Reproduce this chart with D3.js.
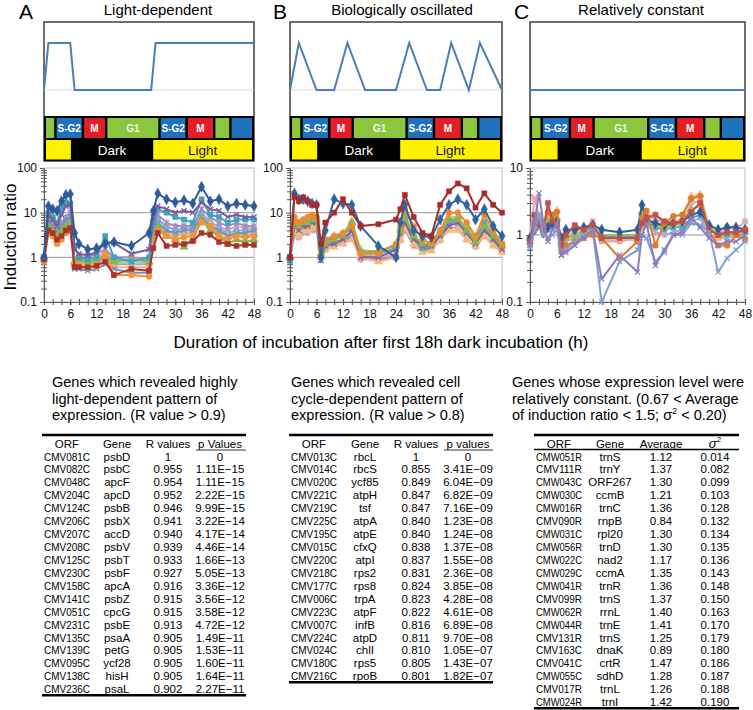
<!DOCTYPE html>
<html>
<head>
<meta charset="utf-8">
<script src="https://cdn.jsdelivr.net/npm/d3@7"></script>
<style>
body { margin: 0; background: #fff; }
svg { font-family: "Liberation Sans", Arial, sans-serif; }
</style>
</head>
<body>
<div id="chart-area"></div>
<script>
// sampling times (h)
var hours = [0,1,2,3,4,5,6,7,8,10,12,14,16,20,24,25,26,28,30,32,34,36,38,40,42,44,46,48];

// induction ratios, panel A (light-dependent)
var seriesA = [
  [1,14,12,11,18,25,26,3.5,2,1.5,1.6,2,2.2,1.8,3.5,11,27,20,17,19,16,38,18,20,14,16,15,14],
  [0.9,4,3.5,2.5,3,4,4.5,0.6,0.6,0.6,0.65,0.8,0.4,0.55,0.5,1.6,3.5,1.8,1.9,2,2.3,3.5,3.2,2.2,2,1.8,1.9,1.9],
  [1,9,7,5,9,14,15,1.5,1.2,1.1,1.3,2.2,2.1,1.2,1.5,8,14,12,10,11,10,17,12,11,8,9,8,8],
  [1,10,8,6,12,17,16,1.8,1,0.9,1,3,1,0.8,1,6,12,10,8,7,6,20,9,8,6,7,7,7],
  [0.8,3.5,3,2,2.5,3.5,4,0.7,0.65,0.6,0.6,1.2,0.4,0.4,0.37,2.5,4,3,2.5,2.8,3,6,5,3,2.5,3,2.8,3],
  [1,5,4,3,4,5,6,0.8,0.9,0.8,0.9,1.1,0.8,0.9,0.8,3,5,3,2.5,1.7,2.5,7,4,3,2,2.5,2.2,2.5],
  [1,6,5,3.5,5,7,8,0.55,0.55,0.5,0.55,0.7,0.55,0.45,0.45,4,6,4,3.5,4,4,8,5,4,3,3.5,3.5,4],
  [0.9,4,3.6,2.5,3.5,4.5,5,0.65,0.7,0.7,0.75,1,0.6,0.6,0.6,3.5,5,3.5,3,3.5,3.5,7,5.5,3.5,3,3.2,3,3.2],
  [1,7,6,4,6,8,10,0.9,1,1,1.2,1.5,1,1,0.9,5,9,6,5,5,5,12,8,6,5,6,5,5],
  [1,5,4,3,4,6,7,0.7,0.75,0.7,0.8,1,0.7,0.7,0.7,4,7,5,4,4.5,4,10,6,4.5,3.5,4,4,4],
  [1,4.5,4,2.8,4,5,5.5,0.75,0.8,0.8,0.85,1,0.75,0.8,0.75,3.2,5.5,3.8,3.2,3.5,3.4,8,5,3.8,2.8,3.4,3.2,3.4],
  [1,6,5,3.5,5,6,6.5,0.85,0.9,0.9,1,1.3,0.9,0.9,0.85,4.5,7,5,4,4.5,4.5,9,6,5,4,5,4.5,4.5]
];

// panel B (biologically oscillated)
var seriesB = [
  [1,23,18,22,18,15,15,2,6,10,20,10,5,5.5,7,12,25,8,3.5,3,15,30,45,35,13,27,15,10],
  [1,27,20,20,18,16,15,1,4,20,16,15,5,1.8,1,6,15,4,3,2.8,7,15,20,15,7,12,5,3],
  [1,8,6,7,8,9,8,1.5,2.5,3,3.5,5,1.2,1.2,2,5,12,5,2.5,2,4,10,10,6,3,9,4,2],
  [1,6,5,6,6,7,7,1.2,2,2.5,3,6,1.3,1.4,1.8,4,8,3,2,2,3.5,7,7,4,2.2,5,3,1.8],
  [1,5,4,5,5,6,6,0.85,1.8,2,2.5,4,1,1,1.5,3.5,6,2.5,1.8,1.8,3,5,6,3.5,2,4,2.5,1.5],
  [0.9,6,5,5,6,7,7,1.5,2.2,2.8,3.2,4.5,1.3,1.2,1.6,4,7,2.8,1.6,1.8,3.2,6,7,4,2.5,6,3,2],
  [1,4,3,4,4,4.5,5,1,1.5,1.7,2,2.5,1,0.8,1,2.5,4.5,2,1.3,1.4,2.5,4,4,2.5,1.8,3,1.8,1.3],
  [0.8,5,4,4.5,5,5.5,5.5,1.3,2,2.2,2.5,3,1.1,0.9,1,3.5,6,2.2,1.5,1.6,3,6,6.5,3.5,2.2,4.5,2.6,1.6],
  [1,7,6,6.5,7,8,8,1.8,2.6,3,3.5,6.5,1.5,1.3,2,4.5,9,3.2,1.9,2.2,4,8,8,4.5,2.8,7,3.5,2],
  [1,5.5,4.5,5,5.5,6,6,1.1,1.7,2,2.3,3.5,1.2,1,1.2,3,5.5,2.4,1.5,1.7,3,5.5,6,3.2,2,4,2.4,1.5],
  [1,3,2.8,3.5,3.5,4,4,0.9,1.5,1.8,2.2,2.8,0.9,0.9,1.1,2.4,4,1.8,1.4,1.5,2.4,4.5,4.8,2.5,1.7,3,2,1.4]
];

// panel C (relatively constant)
var seriesC = [
  [0.7,1.5,4.2,1.5,0.8,1.2,1.5,0.5,0.55,0.7,0.9,1.2,0.22,0.5,0.28,1,1.5,0.35,0.6,1,1.1,1.8,1.3,0.9,0.7,0.8,0.8,1],
  [0.65,1.2,2,1,0.9,1,1.2,0.5,0.6,0.8,1,1.2,0.1,0.4,0.6,1,0.9,0.4,0.55,1,1,1.5,1.4,1.1,0.28,0.45,0.6,0.8],
  [0.8,2,1.5,1.2,3,1.6,1.4,0.7,1,1.4,1.2,1.4,0.9,0.9,0.9,1.5,1.8,2,1.6,1.5,1.6,2.2,3,1.2,1,1.1,1.1,1.2],
  [0.75,1.2,1.5,1.3,2.2,2,2.2,0.6,0.7,0.8,0.9,1,0.9,0.45,0.8,1.8,2.3,0.7,1.5,1.9,2,3.5,3.8,1.1,0.7,0.7,1,0.85],
  [0.9,1.2,1.5,1.1,1.3,1.5,1.6,0.9,1.2,1.2,1.3,1.4,1.2,1.1,1.2,2.8,1.7,1.5,1.4,1.5,1.6,2,2.2,1.4,1.2,1.3,1.3,1.2],
  [0.9,1.5,1.8,1.3,1.6,1.7,1.8,0.8,0.9,1,1.1,1.2,1,1,1,2.2,1.8,1.4,1.3,1.4,1.5,2.4,2.8,1.3,1,1.1,1.1,1.1],
  [0.8,1.3,1.6,1.2,1.4,1.5,1.5,0.7,0.9,1,1.1,1.3,0.95,0.95,0.95,1.6,1.6,1.3,1.2,1.3,1.3,1.8,2,1.2,1,1,1.1,1.1],
  [0.9,3.5,2,1.5,1.8,1.4,1.3,0.8,1,1.3,1.2,1.6,0.8,0.8,0.9,1.8,1.9,1.7,1.5,1.5,1.5,3,3.2,1.2,1,1.3,1.2,1.6],
  [0.8,1.4,1.7,1.4,1.9,1.9,2.3,0.75,0.95,1.1,1.2,1.3,0.9,0.85,0.85,1.7,2,1.9,1.5,1.6,1.7,3.8,4,1.3,0.9,1,1.1,1.2],
  [0.75,1.1,1.3,1,1.2,1.3,1.4,0.65,0.8,0.9,1,1.1,0.85,0.85,0.85,1.3,1.4,1.1,1,1.1,1.2,1.6,1.8,1,0.9,0.9,1,1]
];

// model patterns (time, level)
var patternA = [[0,0],[1,1],[6,1],[7,0],[24.5,0],[25.5,1],[48,1]];
var patternB = [[0,0],[2,1],[6,0],[10,0],[13,1],[17,0],[24,0],[27,1],[31,0],[34,0],[36.5,1],[40.5,0],[43,1],[48,0]];
var patternC = [[0,0],[48,0]];

// cell cycle and light schedule
var phaseBounds = [0,2.6,8.9,14.2,26.4,32.6,38.9,42.6,48];
var phaseKinds = ["G1","S-G2","M","G1","S-G2","M","G1","S-G2"];
var phaseLabels = ["","S-G2","M","G1","S-G2","M","",""];
var lightBounds = [0,6.6,24.5,48];
var lightLabels = ["","Dark","Light"];

var yTicksAB = [0.1,1,10,100];
var yTicksC = [0.1,1,10];
var xTicks = [0,6,12,18,24,30,36,42,48];

// tables
var orfA = ["CMV081C","CMV082C","CMV048C","CMV204C","CMV124C","CMV206C","CMV207C","CMV208C","CMV125C","CMV230C","CMV158C","CMV141C","CMV051C","CMV231C","CMV135C","CMV139C","CMV095C","CMV138C","CMV236C"];
var geneA = ["psbD","psbC","apcF","apcD","psbB","psbX","accD","psbV","psbT","psbF","apcA","psbZ","cpcG","psbE","psaA","petG","ycf28","hisH","psaL"];
var rA = ["1","0.955","0.954","0.952","0.946","0.941","0.940","0.939","0.933","0.927","0.916","0.915","0.915","0.913","0.905","0.905","0.905","0.905","0.902"];
var pA = ["0","1.11E\u221215","1.11E\u221215","2.22E\u221215","9.99E\u221215","3.22E\u221214","4.17E\u221214","4.46E\u221214","1.66E\u221213","5.05E\u221213","3.36E\u221212","3.56E\u221212","3.58E\u221212","4.72E\u221212","1.49E\u221211","1.53E\u221211","1.60E\u221211","1.64E\u221211","2.27E\u221211"];

var orfB = ["CMV013C","CMV014C","CMV020C","CMV221C","CMV219C","CMV225C","CMV195C","CMV015C","CMV220C","CMV218C","CMV177C","CMV006C","CMV223C","CMV007C","CMV224C","CMV024C","CMV180C","CMV216C"];
var geneB = ["rbcL","rbcS","ycf85","atpH","tsf","atpA","atpE","cfxQ","atpI","rps2","rps8","trpA","atpF","infB","atpD","chlI","rps5","rpoB"];
var rB = ["1","0.855","0.849","0.847","0.847","0.840","0.840","0.838","0.837","0.831","0.824","0.823","0.822","0.816","0.811","0.810","0.805","0.801"];
var pB = ["0","3.41E\u221209","6.04E\u221209","6.82E\u221209","7.16E\u221209","1.23E\u221208","1.24E\u221208","1.37E\u221208","1.55E\u221208","2.36E\u221208","3.85E\u221208","4.28E\u221208","4.61E\u221208","6.89E\u221208","9.70E\u221208","1.05E\u221207","1.43E\u221207","1.82E\u221207"];

var orfC = ["CMW051R","CMV111R","CMW043C","CMW030C","CMW016R","CMV090R","CMW031C","CMW056R","CMW022C","CMW029C","CMW041R","CMV099R","CMW062R","CMW044R","CMV131R","CMV163C","CMV041C","CMW055C","CMV017R","CMW024R"];
var geneC = ["trnS","trnY","ORF267","ccmB","trnC","rnpB","rpl20","trnD","nad2","ccmA","trnR","trnS","rrnL","trnE","trnS","dnaK","crtR","sdhD","trnL","trnI"];
var avgC = ["1.12","1.37","1.30","1.21","1.36","0.84","1.30","1.30","1.17","1.35","1.36","1.37","1.40","1.41","1.25","0.89","1.47","1.28","1.26","1.42"];
var varC = ["0.014","0.082","0.099","0.103","0.128","0.132","0.134","0.135","0.136","0.143","0.148","0.150","0.163","0.170","0.179","0.180","0.186","0.187","0.188","0.190"];

// ---- styles ----
var colA = ["#2f5b9a","#a8342f","#7b5a9e","#3fa3bd","#f0923e","#8fb04f","#6c93c9","#f6b26b","#a48cc4","#8eaadb","#b9d28a","#e6a6a4"];
var mkA  = ["diamond","square","x","square","circle","triangle","x","triangle","star","diamond","triangle","square"];
var colB = ["#a52c2a","#2e64a6","#f08a2c","#8fb04f","#8064a2","#4bacc6","#f9b877","#6f95cc","#b7d28a","#e4a9a7","#b3a2c7"];
var mkB  = ["square","diamond","circle","triangle","x","square","triangle","x","triangle","square","star"];
var colC = ["#8d7cbf","#7ea1d6","#c0504d","#e07a28","#2f5b9a","#9bbb59","#4bacc6","#e5a9b0","#f8b878","#b6a6cc"];
var mkC  = ["x","x","square","circle","diamond","triangle","square","square","triangle","star"];
var phaseColor = {"G1":"#8cc63f","S-G2":"#1f72bb","M":"#e41e26"};

var svg = d3.select("#chart-area").append("svg")
  .attr("width", 753)
  .attr("height", 710);

var boxTop = 22, boxBottom = 161, plotTop = 168, plotBottom = 302;

var panels = [
  {left:44, right:254, letter:"A", letterX:19, title:"Light-dependent", titleX:158, series:seriesA, colors:colA, marks:mkA, pattern:patternA, yDom:[0.1,100], yTicks:yTicksAB},
  {left:290, right:502, letter:"B", letterX:273, title:"Biologically oscillated", titleX:402, series:seriesB, colors:colB, marks:mkB, pattern:patternB, yDom:[0.1,100], yTicks:yTicksAB},
  {left:530, right:745, letter:"C", letterX:514, title:"Relatively constant", titleX:641, series:seriesC, colors:colC, marks:mkC, pattern:patternC, yDom:[0.1,10], yTicks:yTicksC}
];

function markPath(kind){
  var r = 2.6;
  if (kind == "diamond") return d3.symbol().type(d3.symbolDiamond).size(34)();
  if (kind == "square") return d3.symbol().type(d3.symbolSquare).size(26)();
  if (kind == "triangle") return d3.symbol().type(d3.symbolTriangle).size(28)();
  if (kind == "circle") return d3.symbol().type(d3.symbolCircle).size(28)();
  if (kind == "x") return "M"+(-r)+","+(-r)+"L"+r+","+r+"M"+r+","+(-r)+"L"+(-r)+","+r;
  return "M"+(-r)+","+(-r)+"L"+r+","+r+"M"+r+","+(-r)+"L"+(-r)+","+r+"M0,-3.3L0,3.3";
}

panels.forEach(function(p){
  var x = d3.scaleLinear().domain([0,48]).range([p.left, p.right]);
  var y = d3.scaleLog().domain(p.yDom).range([plotBottom, plotTop]);
  var lv = d3.scaleLinear().domain([0,1]).range([90,43]);

  // heading
  svg.append("text").attr("x", p.letterX).attr("y", 19)
    .attr("font-size", "21px").text(p.letter);
  svg.append("text").attr("x", p.titleX).attr("y", 15)
    .attr("font-size", "15px").attr("text-anchor", "middle").text(p.title);

  // model box
  svg.append("rect").attr("x", p.left).attr("y", boxTop)
    .attr("width", p.right - p.left).attr("height", boxBottom - boxTop)
    .attr("fill", "#fff").attr("stroke", "#222").attr("stroke-width", 1.3);
  svg.append("line").attr("x1", p.left).attr("x2", p.right)
    .attr("y1", lv(0)).attr("y2", lv(0)).attr("stroke", "#ddd").attr("stroke-width", 1);
  svg.append("path").datum(p.pattern)
    .attr("d", d3.line().x(function(d){return x(d[0]);}).y(function(d){return lv(d[1]);}))
    .attr("fill", "none").attr("stroke", "#4a7ebb").attr("stroke-width", 2);

  // cell cycle rows
  svg.append("rect").attr("x", p.left).attr("y", 116)
    .attr("width", p.right - p.left).attr("height", boxBottom - 116).attr("fill", "#000");
  for (var i = 0; i < phaseKinds.length; i++) {
    var x0 = x(phaseBounds[i]) + (i == 0 ? 2 : 1.2), x1 = x(phaseBounds[i+1]) - (i == phaseKinds.length-1 ? 2 : 1.2);
    svg.append("rect").attr("x", x0).attr("y", 118).attr("width", x1 - x0).attr("height", 20)
      .attr("fill", phaseColor[phaseKinds[i]]);
    if (phaseLabels[i]) {
      svg.append("text").attr("x", (x0 + x1) / 2).attr("y", 132)
        .attr("text-anchor", "middle").attr("font-size", "10px").attr("font-weight", "bold")
        .attr("fill", phaseKinds[i] == "G1" ? "#eef6e0" : "#fff").text(phaseLabels[i]);
    }
  }
  for (var j = 0; j < lightLabels.length; j++) {
    var l0 = x(lightBounds[j]) + 2, l1 = x(lightBounds[j+1]) - 2;
    var dark = lightLabels[j] == "Dark";
    if (!dark) {
      svg.append("rect").attr("x", l0).attr("y", 140).attr("width", l1 - l0).attr("height", 19.5)
        .attr("fill", "#fff200");
    }
    if (lightLabels[j]) {
      svg.append("text").attr("x", (l0 + l1) / 2).attr("y", 155)
        .attr("text-anchor", "middle").attr("font-size", "13.5px")
        .attr("fill", dark ? "#fff" : "#111").text(lightLabels[j]);
    }
  }

  // plot frame and grid
  svg.append("rect").attr("x", p.left).attr("y", plotTop)
    .attr("width", p.right - p.left).attr("height", plotBottom - plotTop)
    .attr("fill", "none").attr("stroke", "#bbb");
  p.yTicks.slice(1, -1).forEach(function(t){
    svg.append("line").attr("x1", p.left).attr("x2", p.right)
      .attr("y1", y(t)).attr("y2", y(t)).attr("stroke", "#999").attr("stroke-width", 1);
  });

  // axes
  var minor = [];
  for (var k = 0; k < p.yTicks.length - 1; k++) {
    for (var m = 2; m <= 9; m++) minor.push(p.yTicks[k] * m);
  }
  var yMinor = svg.append("g").attr("transform", "translate(" + (p.left + 3) + ",0)")
    .call(d3.axisLeft(y).tickValues(minor).tickSize(6).tickFormat(""));
  yMinor.select(".domain").remove();
  yMinor.selectAll("line").attr("stroke", "#555");
  var yAxis = svg.append("g").attr("transform", "translate(" + p.left + ",0)")
    .call(d3.axisLeft(y).tickValues(p.yTicks).tickSize(4).tickSizeOuter(0)
      .tickFormat(function(d){ return d < 1 ? "0.1" : String(d); }));
  yAxis.select(".domain").attr("stroke", "#555");
  yAxis.selectAll("line").attr("stroke", "#555");
  yAxis.selectAll("text").attr("font-size", "12px").attr("fill", "#111")
    .attr("font-family", "Liberation Sans, Arial, sans-serif");

  var xMinor = svg.append("g").attr("transform", "translate(0," + (plotBottom - 3) + ")")
    .call(d3.axisBottom(x).tickValues(d3.range(0, 49, 2)).tickSize(6).tickFormat(""));
  xMinor.select(".domain").remove();
  xMinor.selectAll("line").attr("stroke", "#555");
  var xAxis = svg.append("g").attr("transform", "translate(0," + plotBottom + ")")
    .call(d3.axisBottom(x).tickValues(xTicks).tickSize(3).tickSizeOuter(0).tickPadding(4));
  xAxis.select(".domain").attr("stroke", "#555");
  xAxis.selectAll("line").attr("stroke", "#555");
  xAxis.selectAll("text").attr("font-size", "12px").attr("fill", "#111")
    .attr("font-family", "Liberation Sans, Arial, sans-serif");

  // data series
  var line = d3.line().x(function(d, i){ return x(hours[i]); }).y(function(d){ return y(d); });
  var order = d3.range(p.series.length).reverse();
  order.forEach(function(si){
    var vals = p.series[si], c = p.colors[si], mk = p.marks[si];
    svg.append("path").datum(vals).attr("d", line)
      .attr("fill", "none").attr("stroke", c).attr("stroke-width", 2).attr("stroke-linejoin", "round");
    var stroked = (mk == "x" || mk == "star");
    svg.append("g").selectAll("path").data(vals).enter().append("path")
      .attr("transform", function(d, i){ return "translate(" + x(hours[i]) + "," + y(d) + ")"; })
      .attr("d", markPath(mk))
      .attr("fill", stroked ? "none" : c)
      .attr("stroke", c).attr("stroke-width", stroked ? 1.3 : 0.5);
  });
});

// shared axis labels
svg.append("text").attr("transform", "translate(16,237) rotate(-90)")
  .attr("text-anchor", "middle").attr("font-size", "17px").text("Induction ratio");
svg.append("text").attr("x", 381).attr("y", 348)
  .attr("text-anchor", "middle").attr("font-size", "17px")
  .text("Duration of incubation after first 18h dark incubation (h)");

// tables
var tables = [
  {titleX:52, title:["Genes which revealed highly","light-dependent pattern of","expression. (R value > 0.9)"],
   left:42, right:246, cx:[67,117,168,220], head:["ORF","Gene","R values","p Values"], cols:[orfA,geneA,rA,pA], headRule:false},
  {titleX:291, title:["Genes which revealed cell","cycle-dependent pattern of","expression. (R value > 0.8)"],
   left:289, right:493, cx:[314,365,416,468], head:["ORF","Gene","R values","p values"], cols:[orfB,geneB,rB,pB], headRule:false},
  {titleX:512, title:["Genes whose expression level were","relatively constant. (0.67 < Average","of induction ratio < 1.5; \u03c3|2| < 0.20)"],
   left:534, right:739, cx:[559,610,661,715], head:["ORF","Gene","Average","sigma"], cols:[orfC,geneC,avgC,varC], headRule:true}
];

var rowStep = 12.93;
tables.forEach(function(t){
  t.title.forEach(function(s, i){
    var tt = svg.append("text").attr("x", t.titleX).attr("y", 387 + i * 16.7)
      .attr("font-size", "14.5px");
    // "|2|" marks a superscript
    var parts = s.split("|");
    parts.forEach(function(part, pi){
      var sp = tt.append("tspan").text(part);
      if (pi % 2 == 1) sp.attr("dy", -6).attr("font-size", "9px");
      else if (pi > 0) sp.attr("dy", 6);
    });
  });
  svg.append("line").attr("x1", t.left).attr("x2", t.right).attr("y1", 435).attr("y2", 435)
    .attr("stroke", "#000").attr("stroke-width", 2.5);
  t.head.forEach(function(h, i){
    var tx = svg.append("text").attr("x", t.cx[i]).attr("y", 448)
      .attr("text-anchor", "middle").attr("font-size", "11.5px");
    if (h == "sigma") {
      tx.append("tspan").attr("font-style", "italic").attr("font-size", "13px").text("\u03c3");
      tx.append("tspan").attr("dy", -6).attr("font-size", "8px").text("2");
    } else {
      tx.text(h);
    }
  });
  if (t.headRule) {
    svg.append("line").attr("x1", t.left).attr("x2", t.right).attr("y1", 449.5).attr("y2", 449.5)
      .attr("stroke", "#000").attr("stroke-width", 1.5);
  } else {
    svg.append("line").attr("x1", t.cx[3] - 24).attr("x2", t.right).attr("y1", 450).attr("y2", 450)
      .attr("stroke", "#000").attr("stroke-width", 0.8);
  }
  var n = t.cols[0].length;
  for (var r = 0; r < n; r++) {
    t.cols.forEach(function(col, ci){
      var cell = svg.append("text").attr("x", t.cx[ci]).attr("y", 460.5 + r * rowStep)
        .attr("text-anchor", "middle").attr("font-size", "11.5px").text(col[r]);
      // ORF codes are set in a narrow face in the original
      if (ci == 0) cell.attr("textLength", 46).attr("lengthAdjust", "spacingAndGlyphs");
    });
  }
  var yb = 456 + (n - 1) * rowStep + 6.5;
  svg.append("line").attr("x1", t.left).attr("x2", t.right).attr("y1", yb).attr("y2", yb)
    .attr("stroke", "#000").attr("stroke-width", 2.5);
});
</script>
</body>
</html>
